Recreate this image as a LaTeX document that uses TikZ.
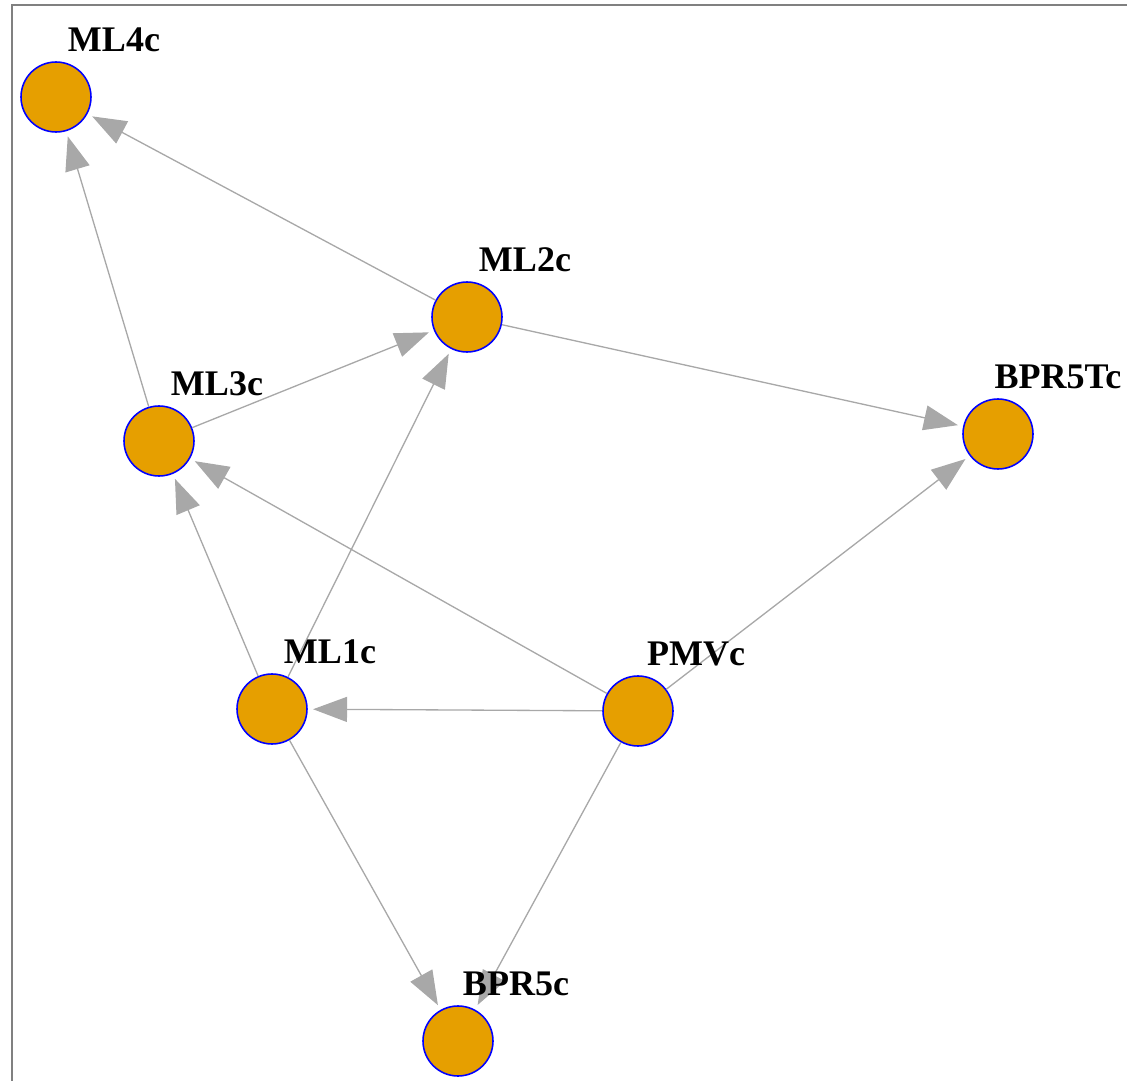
\documentclass[tikz,border=0pt]{standalone}
\usepackage{fontspec}
\setmainfont{Liberation Serif}
\usepackage{tikz}
\usetikzlibrary{arrows.meta,positioning,calc}
\definecolor{NodeFill}{RGB}{230,159,0}
\definecolor{NodeLine}{RGB}{0,0,255}
\definecolor{EdgeGray}{RGB}{168,168,168}
\definecolor{FrameGray}{RGB}{128,128,128}

\begin{document}
\begin{tikzpicture}[x=0.02cm, y=-0.02cm,
    vtx/.style={circle, fill=NodeFill, draw=NodeLine, line width=0.9pt, minimum size=1.4cm, inner sep=0pt},
    lbl/.style={font=\fontsize{20.5}{24}\selectfont\bfseries, inner sep=0pt},
    edge/.style={draw=EdgeGray, line width=0.75pt, -{Triangle[length=0.68cm, width=0.5cm]}, shorten >=3pt}]
        \useasboundingbox (0,0) rectangle (1127,1081);
        \draw[FrameGray, line width=1.4pt] (12,1081)--(12,5)--(1127,5);
        % vertices
        \node[vtx] (ML4c) at (56,97) {};
        \node[vtx] (ML2c) at (467,317) {};
        \node[vtx] (BPR5Tc) at (998,434) {};
        \node[vtx] (ML3c) at (159,441) {};
        \node[vtx] (ML1c) at (272,709) {};
        \node[vtx] (PMVc) at (638,711) {};
        \node[vtx] (BPR5c) at (458,1041) {};
        % edges
        \draw[edge] (ML2c) -- (ML4c);
        \draw[edge] (ML3c) -- (ML4c);
        \draw[edge] (ML3c) -- (ML2c);
        \draw[edge] (ML1c) -- (ML2c);
        \draw[edge] (ML1c) -- (ML3c);
        \draw[edge] (ML2c) -- (BPR5Tc);
        \draw[edge] (PMVc) -- (BPR5Tc);
        \draw[edge] (PMVc) -- (ML3c);
        \draw[edge] (PMVc) -- (ML1c);
        \draw[edge] (ML1c) -- (BPR5c);
        \draw[edge] (PMVc) -- (BPR5c);
        % labels
        \node[lbl] at ($(ML4c)+(58,-57)$) {ML4c};
        \node[lbl] at ($(ML2c)+(58,-57)$) {ML2c};
        \node[lbl] at ($(BPR5Tc)+(60,-57)$) {BPR5Tc};
        \node[lbl] at ($(ML3c)+(58,-57)$) {ML3c};
        \node[lbl] at ($(ML1c)+(58,-57)$) {ML1c};
        \node[lbl] at ($(PMVc)+(58,-57)$) {PMVc};
        \node[lbl] at ($(BPR5c)+(58,-57)$) {BPR5c};
      \end{tikzpicture}
\end{document}
